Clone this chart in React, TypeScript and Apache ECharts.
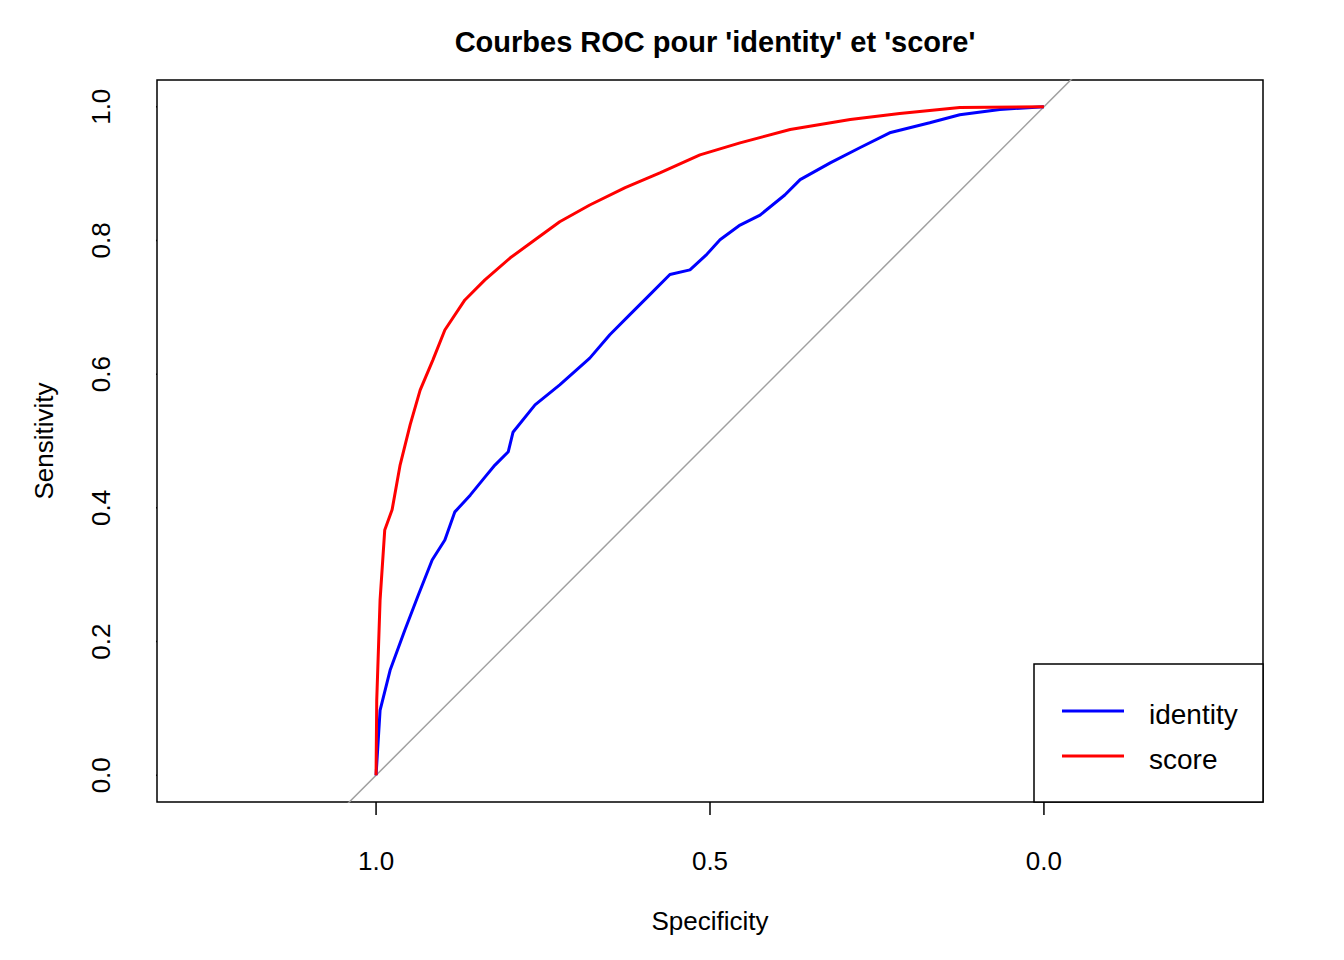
import React, { useEffect, useRef } from "react";
import * as echarts from "echarts";

const identitySpec = [1, 0.994, 0.979, 0.957, 0.937, 0.916, 0.897, 0.882, 0.859, 0.837, 0.822, 0.802, 0.795, 0.762, 0.725, 0.68, 0.65, 0.62, 0.59, 0.56, 0.53, 0.506, 0.485, 0.455, 0.425, 0.388, 0.365, 0.32, 0.275, 0.231, 0.171, 0.126, 0.066, 0];
const identitySens = [0, 0.097, 0.157, 0.217, 0.269, 0.322, 0.352, 0.394, 0.419, 0.446, 0.464, 0.484, 0.513, 0.554, 0.584, 0.624, 0.659, 0.689, 0.719, 0.749, 0.756, 0.778, 0.801, 0.823, 0.838, 0.868, 0.891, 0.916, 0.939, 0.961, 0.976, 0.988, 0.996, 1];
const scoreSpec = [1, 0.999, 0.994, 0.987, 0.976, 0.964, 0.949, 0.934, 0.915, 0.897, 0.867, 0.837, 0.799, 0.762, 0.725, 0.68, 0.627, 0.575, 0.515, 0.455, 0.38, 0.29, 0.216, 0.126, 0];
const scoreSens = [0, 0.112, 0.262, 0.367, 0.397, 0.464, 0.524, 0.576, 0.621, 0.666, 0.711, 0.741, 0.774, 0.801, 0.828, 0.853, 0.879, 0.901, 0.928, 0.946, 0.966, 0.981, 0.99, 0.999, 1];
const xTicks = [0, 0.5, 1];
const yTicks = [0, 0.2, 0.4, 0.6, 0.8, 1];
const font = "Liberation Sans, Arial, sans-serif";

export default function App() {
  const ref = useRef<HTMLDivElement>(null);
  useEffect(() => {
    document.body.style.margin = "0";
    const chart = echarts.init(ref.current!, null, { renderer: "svg" });
    const zip = (a: number[], b: number[]) => a.map((v, i) => [v, b[i]]);
    const tickStyle = { color: "#000", width: 1.5 };
    const xTickSeries = xTicks.map((t) => ({
      type: "line", data: [[t, -0.04], [t, -0.0595]], showSymbol: false, clip: false, silent: true, lineStyle: tickStyle,
    }));
    const yTickSeries = yTicks.map((t) => ({
      type: "line", data: [[1.328, t], [1.3475, t]], showSymbol: false, clip: false, silent: true, lineStyle: tickStyle,
    }));
    chart.setOption({
      animation: false,
      backgroundColor: "#fff",
      title: {
        text: "Courbes ROC pour 'identity' et 'score'",
        left: 710, top: 22, textAlign: "center",
        textStyle: { fontFamily: font, fontSize: 29, fontWeight: "bold", color: "#000" },
      },
      grid: { left: 157, top: 80, width: 1106, height: 722, show: true, borderColor: "#000", borderWidth: 1.5, backgroundColor: "transparent" },
      xAxis: {
        type: "value", inverse: true, min: -0.328, max: 1.328,
        name: "Specificity", nameLocation: "middle", nameGap: 106,
        nameTextStyle: { fontFamily: font, fontSize: 26, color: "#000" },
        axisLine: { show: false }, splitLine: { show: false }, axisTick: { show: false },
        axisLabel: { customValues: xTicks, margin: 46, fontFamily: font, fontSize: 26, color: "#000", formatter: (v: number) => v.toFixed(1) },
      },
      yAxis: {
        type: "value", min: -0.04, max: 1.04,
        name: "Sensitivity", nameLocation: "middle", nameGap: 100,
        nameTextStyle: { fontFamily: font, fontSize: 26, color: "#000" },
        axisLine: { show: false }, splitLine: { show: false }, axisTick: { show: false },
        axisLabel: { customValues: yTicks, rotate: 90, margin: 56, fontFamily: font, fontSize: 26, color: "#000", formatter: (v: number) => v.toFixed(1), verticalAlign: "middle", align: "center" },
      },
      graphic: [
        { type: "rect", shape: { x: 1034, y: 664, width: 229, height: 138 }, style: { fill: "#fff", stroke: "#000", lineWidth: 1.5 }, z: 100 },
        { type: "line", shape: { x1: 1062, y1: 711, x2: 1124, y2: 711 }, style: { stroke: "#0000ff", lineWidth: 3 }, z: 101 },
        { type: "line", shape: { x1: 1062, y1: 756, x2: 1124, y2: 756 }, style: { stroke: "#ff0000", lineWidth: 3 }, z: 101 },
        { type: "text", x: 1149, y: 714, style: { text: "identity", fontFamily: font, fontSize: 28, fill: "#000", verticalAlign: "middle" }, z: 101 },
        { type: "text", x: 1149, y: 759, style: { text: "score", fontFamily: font, fontSize: 28, fill: "#000", verticalAlign: "middle" }, z: 101 },
      ],
      series: [
        { type: "line", data: [[1.042, -0.042], [-0.042, 1.042]], showSymbol: false, lineStyle: { color: "#a0a0a0", width: 1.5 }, clip: true, silent: true },
        { type: "line", data: zip(identitySpec, identitySens), showSymbol: false, lineStyle: { color: "#0000ff", width: 3 }, clip: true },
        { type: "line", data: zip(scoreSpec, scoreSens), showSymbol: false, lineStyle: { color: "#ff0000", width: 3 }, clip: true },
        ...xTickSeries,
        ...yTickSeries,
      ],
    });
    return () => chart.dispose();
  }, []);
  return <div ref={ref} style={{ width: 1344, height: 960 }} />;
}
